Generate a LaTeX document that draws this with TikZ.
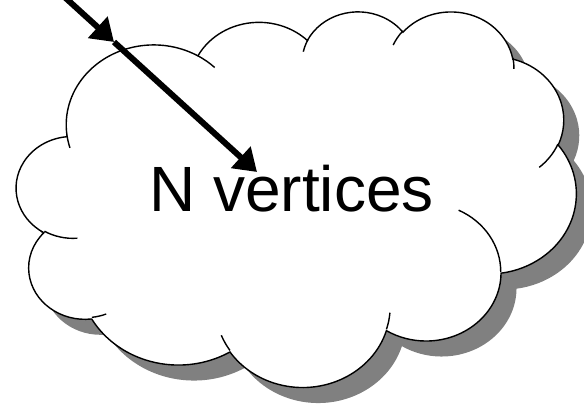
\documentclass[tikz,border=0pt]{standalone}
\usepackage{fontspec}
\setmainfont{Liberation Sans}
\usetikzlibrary{arrows.meta}
\tikzset{
  carc/.style n args={4}{insert path={arc[x radius=#1cm, y radius=#2cm,
      start angle={pa(#1,#2,#3)}, end angle={pa(#1,#2,#3+#4)}]}},
  cloudpath/.style={insert path={
    (3.900cm,14.370cm)
    [carc={6.753}{9.190}{-190.4875}{123.7805}]
    [carc={5.333}{7.267}{-144.1024}{89.9452}]
    [carc={4.365}{5.945}{-145.8079}{99.7230}]
    [carc={4.857}{6.595}{-130.9861}{117.2417}]
    [carc={5.333}{7.273}{-78.7089}{109.0269}]
    [carc={6.775}{9.220}{-46.2673}{130.2690}]
    [carc={5.785}{7.867}{0.6250}{114.0333}]
    [carc={6.752}{9.215}{22.4516}{115.1726}]
    [carc={7.720}{10.543}{66.2426}{75.7110}]
    [carc={4.360}{5.918}{-274.9421}{146.7356}]
    [carc={4.345}{5.945}{-246.8285}{152.5189}]
    -- cycle}},
  cloudtails/.style={insert path={
    (4.693cm,26.177cm) [carc={4.345}{5.945}{86.7420}{26.4295}]
    (6.928cm,34.899cm) [carc={4.360}{5.918}{73.6105}{11.4475}]
    (16.478cm,39.090cm) [carc={6.752}{9.215}{137.6242}{14.0811}]
    (28.827cm,34.751cm) [carc={6.752}{9.215}{6.4533}{15.9984}]
    (34.129cm,22.954cm) [carc={5.785}{7.867}{-70.2924}{70.9174}]
    (41.798cm,15.354cm) [carc={5.333}{7.273}{30.3180}{27.7515}]
    (38.324cm,5.426cm) [carc={4.857}{6.595}{-13.7443}{14.8589}]
    (29.078cm,3.952cm) [carc={4.857}{6.595}{-149.1815}{18.1954}]
    (22.141cm,4.720cm) [carc={4.365}{5.945}{-163.4943}{17.6864}]
    (14.000cm,5.192cm) [carc={6.753}{9.190}{-66.7070}{12.3194}]
    (4.127cm,15.789cm) [carc={6.753}{9.190}{157.6544}{11.8582}]
  }},
  outline/.style={draw=black, line width=1.4bp},
  shadowfill/.style={fill=black!50},
  arrowline/.style={line width=6bp, -{Triangle[width=28bp,length=22bp]}},
  labeltext/.style={anchor=base, font=\fontsize{64bp}{70bp}\selectfont}
}
\begin{document}
\begin{tikzpicture}[x=1bp, y=-1bp,
  declare function={pa(\rw,\rh,\ang)=\ang+atan((\rw/\rh-1)*sin(\ang)*cos(\ang)/(cos(\ang)^2+(\rw/\rh)*sin(\ang)^2));}]
  \useasboundingbox (0,0) rectangle (584,404);
  % shadow
  \begin{scope}[shift={(32,26.15)}, xscale=0.45699, yscale=-0.30664]
    \fill[shadowfill] [cloudpath];
  \end{scope}
  % cloud
  \begin{scope}[shift={(16.5,10.65)}, xscale=0.45699, yscale=-0.30664]
    \filldraw[fill=white, outline] [cloudpath];
    \draw[outline] [cloudtails];
  \end{scope}
  % label
  \node[labeltext] (label) at (291.5,211) {N vertices};
  % arrow
  \coordinate (A) at (40,-25.3);
  \coordinate (M) at (114,42);
  \coordinate (E) at (257,172);
  \draw[arrowline] (A) -- (M);
  \draw[arrowline] (M) -- (E);
\end{tikzpicture}
\end{document}
